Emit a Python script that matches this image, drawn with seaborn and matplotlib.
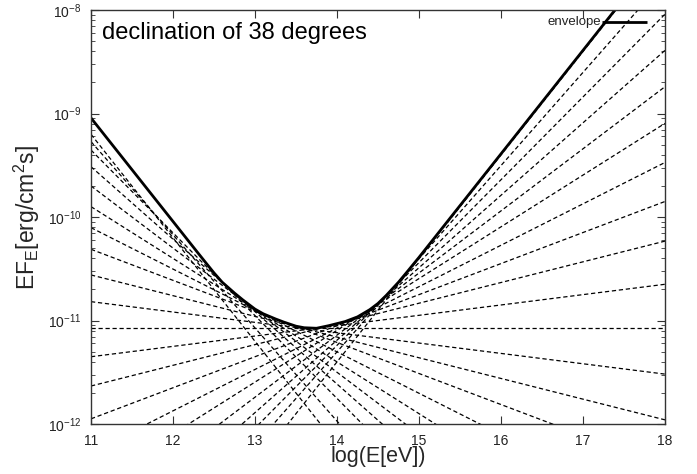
import numpy as np
import pandas as pd
import matplotlib
matplotlib.use("Agg")
import matplotlib.pyplot as plt
import seaborn as sns
from matplotlib.ticker import LogLocator, NullFormatter

# ---- data ----
# dashed lines: slope in log(EF_E) per decade of E, and log10(EF_E) at log(E)=11
line_slopes = [1.0, 0.9, 0.8, 0.7, 0.6, 0.5, 0.4, 0.3, 0.2, 0.1, 0.0,
               -0.1, -0.2, -0.3, -0.4, -0.5, -0.6, -0.7, -0.8, -0.9, -1.0]
line_log_at_11 = [-14.40, -14.003, -13.64, -13.29, -12.941, -12.595, -12.273,
                  -11.95, -11.633, -11.35, -11.075,
                  -10.818, -10.560, -10.312, -10.103, -9.900, -9.700,
                  -9.514, -9.353, -9.272, -9.201]

# envelope (solid) read as points: log(E), log10(EF_E)
env_logE = [11.0, 12.3, 12.4, 12.5, 12.6, 12.75, 12.85, 13.0, 13.1, 13.25,
            13.35, 13.5, 13.6, 13.75, 13.9, 14.0, 14.1, 14.25, 14.4, 14.5,
            14.6, 14.75, 14.85, 15.0, 17.39]
env_logF = [-9.043, -10.343, -10.442, -10.54, -10.63, -10.735, -10.80, -10.89,
            -10.935, -10.985, -11.015, -11.055, -11.07, -11.075, -11.05, -11.03,
            -11.01, -10.965, -10.895, -10.835, -10.758, -10.63, -10.535, -10.39,
            -8.0]

x_ticks = [11, 12, 13, 14, 15, 16, 17, 18]
title_text = "declination of 38 degrees"

# ---- figure ----
sns.set_style("ticks")
plt.rcParams['font.family'] = ['Liberation Sans', 'DejaVu Sans']
plt.rcParams['mathtext.fontset'] = 'custom'
plt.rcParams['mathtext.rm'] = 'Liberation Sans'
plt.rcParams['mathtext.it'] = 'Liberation Sans:italic'

fig = plt.figure(figsize=(6.97, 4.74), dpi=100)
ax = fig.add_axes([91/697, 50/474, (665-91)/697, (424-10)/474])

x_edges = np.array([11.0, 18.0])
for s, l11 in zip(line_slopes, line_log_at_11):
    y = 10 ** (l11 + s * (x_edges - 11.0))
    sns.lineplot(x=x_edges, y=y, ax=ax, color='black', lw=0.9,
                 linestyle=(0, (3.4, 2.2)))

env_df = pd.DataFrame({"logE": env_logE, "F": 10 ** np.array(env_logF)})
sns.lineplot(data=env_df, x="logE", y="F", ax=ax, color='black', lw=2.0,
             sort=False)

ax.set_yscale('log')
ax.set_xlim(11, 18)
ax.set_ylim(1e-12, 1e-8)
ax.set_xticks(x_ticks)
ax.set_xticklabels([str(t) for t in x_ticks])
ax.yaxis.set_major_locator(LogLocator(base=10, numticks=10))
ax.yaxis.set_minor_locator(LogLocator(base=10, subs=np.arange(2, 10), numticks=20))
ax.yaxis.set_minor_formatter(NullFormatter())

ax.tick_params(axis='both', which='both', direction='in', top=True, right=True,
               colors='#333333', labelcolor='#222222', labelsize=10)
ax.tick_params(axis='both', which='major', length=6, width=0.8, pad=7)
ax.tick_params(axis='y', which='minor', length=3, width=0.6)
for sp in ax.spines.values():
    sp.set_linewidth(1.0)
    sp.set_color('#333333')

ax.set_xlabel("log(E[eV])", fontsize=15.5, labelpad=-1)
ax.set_ylabel(r"EF$_\mathrm{E}$[erg/cm$^2$s]", fontsize=16.5, labelpad=4)

ax.text(0.02, 0.97, title_text, transform=ax.transAxes, fontsize=17,
        va='top', ha='left', color='black')

# legend entry
ax.text(0.888, 0.97, "envelope", transform=ax.transAxes, fontsize=9.5,
        va='center', ha='right', color='#222222')
ax.plot([0.89, 0.968], [0.97, 0.97], transform=ax.transAxes, color='black',
        lw=2.0, solid_capstyle='butt')

fig.savefig("out.png", dpi=100)
